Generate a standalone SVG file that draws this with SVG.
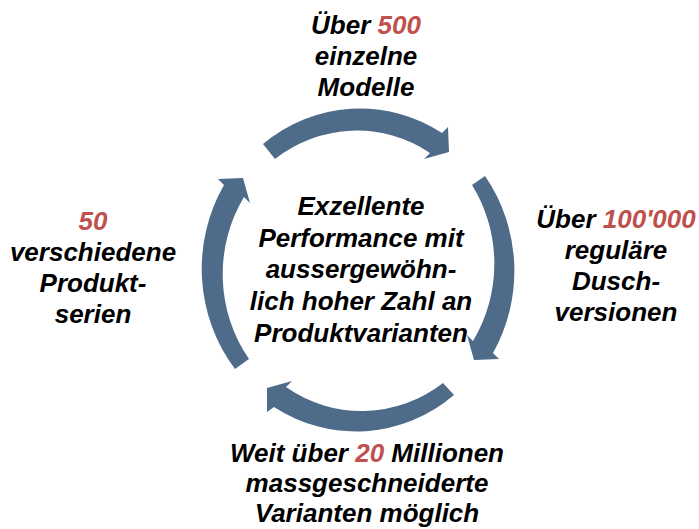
<svg xmlns="http://www.w3.org/2000/svg" width="699" height="529" viewBox="0 0 699 529">
<style>
.arrow{fill:#4e6b8a;}
.t{font-family:"Liberation Sans",Arial,sans-serif;font-weight:bold;font-style:italic;font-size:26px;fill:#000;text-anchor:middle;}
.r{fill:#c0504d;}
</style>
<rect width="699" height="529" fill="#fff"/>
<g id="connectors">
<path class="arrow" d="M263,144 A155,162 0 0 1 442,133 L448,127 L449,152 L424,159 L430,153 A137,144 0 0 0 275,159 Z"/>
<path class="arrow" d="M485,176 A155,162 0 0 1 493,353 L499,359 L474,360 L467,335 L473,341 A137,144 0 0 0 472,185 Z"/>
<path class="arrow" d="M454,395 A155,162 0 0 1 274,407 L267,412 L267,388 L292,381 L286,387 A137,144 0 0 0 443,383 Z"/>
<path class="arrow" d="M235,369 A155,162 0 0 1 224,185 L218,179 L243,178 L250,203 L244,197 A137,144 0 0 0 249,359 Z"/>
</g>
<g id="center">
<text class="t" x="361" y="215">Exzellente</text>
<text class="t" x="361" y="247">Performance mit</text>
<text class="t" x="361" y="278">aussergewöhn-</text>
<text class="t" x="361" y="310">lich hoher Zahl an</text>
<text class="t" x="361" y="342">Produktvarianten</text>
</g>
<g id="top">
<text class="t" x="366" y="34">Über <tspan class="r">500</tspan></text>
<text class="t" x="366" y="65">einzelne</text>
<text class="t" x="366" y="96">Modelle</text>
</g>
<g id="right">
<text class="t" x="616" y="228">Über <tspan class="r">100'000</tspan></text>
<text class="t" x="616" y="259">reguläre</text>
<text class="t" x="616" y="290">Dusch-</text>
<text class="t" x="616" y="321">versionen</text>
</g>
<g id="left">
<text class="t" x="93" y="230"><tspan class="r">50</tspan></text>
<text class="t" x="93" y="261">verschiedene</text>
<text class="t" x="93" y="292">Produkt-</text>
<text class="t" x="93" y="323">serien</text>
</g>
<g id="bottom">
<text class="t" x="367" y="462">Weit über <tspan class="r">20</tspan> Millionen</text>
<text class="t" x="367" y="492">massgeschneiderte</text>
<text class="t" x="367" y="522">Varianten möglich</text>
</g>
</svg>
